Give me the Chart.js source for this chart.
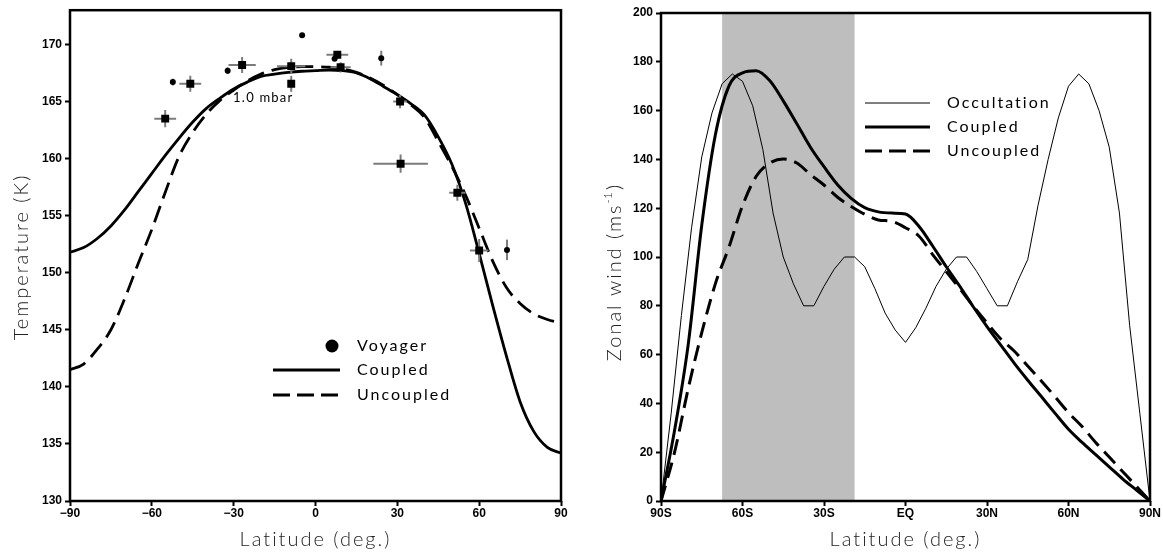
<!DOCTYPE html>
<html>
<head>
<meta charset="utf-8">
<script src="https://cdn.jsdelivr.net/npm/chart.js@4/dist/chart.umd.min.js"></script>
<style>
  html, body { margin: 0; padding: 0; background: #fff; }
  body { width: 1163px; height: 559px; position: relative; overflow: hidden; }
  #tempWrap { position: absolute; left: 0; top: 0; width: 581px; height: 559px; }
  #windWrap { position: absolute; left: 590px; top: 0; width: 573px; height: 559px; }
</style>
</head>
<body>
<div id="tempWrap"><canvas id="tempChart" width="581" height="559"></canvas></div>
<div id="windWrap"><canvas id="windChart" width="573" height="559"></canvas></div>
<script>
/* global Chart */

// ---- temperature panel ----
const tempLat = [-90, -85, -80, -75, -70, -65, -60, -55, -50, -45, -40, -35, -30, -25, -20, -15, -10, -5,
  0, 5, 10, 15, 20, 25, 30, 35, 40, 45, 50, 55, 60, 65, 70, 75, 80, 85, 90];
const coupledTemp = [151.8, 152.2, 153.0, 154.1, 155.5, 157.1, 158.7, 160.3, 161.8, 163.2, 164.4, 165.3, 166.1,
  166.7, 167.2, 167.4, 167.55, 167.65, 167.7, 167.75, 167.7, 167.5, 167.0, 166.3, 165.6, 164.8, 163.8,
  161.9, 159.5, 156.1, 151.7, 147.1, 142.7, 138.7, 136.1, 134.7, 134.2];
const uncoupledTemp = [141.5, 142.0, 143.3, 145.0, 147.7, 150.8, 153.8, 157.1, 160.2, 162.3, 163.9, 165.1, 166.0,
  166.8, 167.4, 167.8, 168.0, 168.05, 168.05, 168.0, 167.85, 167.55, 167.05, 166.4, 165.6, 164.7, 163.6,
  161.5, 159.3, 156.8, 153.9, 151.0, 148.7, 147.3, 146.4, 145.9, 145.6];

// Voyager retrievals with error bars (0 = no bar)
const voyLat = [-55.1, -52.3, -45.9, -32.2, -26.9, -8.9, -8.9, -4.9, 7.0, 8.0, 9.2, 24.1, 31.0, 31.2, 52.0, 60.0, 70.2];
const voyTemp = [163.5, 166.7, 166.55, 167.7, 168.2, 168.1, 166.55, 170.8, 168.75, 169.1, 168.0, 168.8, 165.0, 159.55, 157.0, 151.95, 152.0];
const voyShape = ["rect", "circle", "rect", "circle", "rect", "rect", "rect", "circle", "circle", "rect", "rect", "circle", "rect", "rect", "rect", "rect", "circle"];
const voyLatErr = [4, 0, 4, 0, 5, 5.2, 0, 0, 0, 4, 3.7, 0, 2.5, 10, 3, 3.4, 0];
const voyTempErr = [0.75, 0.3, 0.7, 0.3, 0.7, 0.65, 0.7, 0, 0, 0.3, 0.45, 0.65, 0.6, 0.8, 0.7, 1.0, 0.9];

const tempXTicks = [-90, -60, -30, 0, 30, 60, 90];
const tempYTicks = [130, 135, 140, 145, 150, 155, 160, 165, 170];

// ---- zonal wind panel ----
const windLat = [-90, -85, -80, -75, -70, -65, -60, -55, -50, -45, -40, -35, -30, -25, -20, -15, -10, -5,
  0, 5, 10, 15, 20, 25, 30, 35, 40, 45, 50, 55, 60, 65, 70, 75, 80, 85, 90];
const coupledWind = [0, 29, 64, 113, 150, 170, 175.5, 176.3, 172.3, 164, 154.6, 145, 137, 129.6, 124, 120.2,
  118.5, 118, 117.6, 112.5, 104.5, 96, 88, 79.5, 71.5, 64, 56.5, 49.5, 42.8, 36, 29.4, 24, 19, 14, 9, 4.5, 0];
const uncoupledWind = [0, 20, 46, 69, 89, 104, 121, 133, 138.5, 140.2, 138.5, 133.8, 129.5, 124.5, 120.7, 117.5,
  115.2, 114.6, 112, 108.5, 101, 94, 87, 79.8, 73, 66.5, 61.5, 55.3, 49.2, 42.8, 36.2, 30.5, 24, 18, 12, 6, 0];

const occultLat = [-90, -86.25, -82.5, -78.75, -75, -71.25, -67.5, -63.75, -60, -56.25, -52.5, -48.75, -45,
  -41.25, -37.5, -33.75, -30, -26.25, -22.5, -18.75, -15, -11.25, -7.5, -3.75, 0, 3.75, 7.5, 11.25, 15,
  18.75, 22.5, 26.25, 30, 33.75, 37.5, 41.25, 45, 48.75, 52.5, 56.25, 60, 63.75, 67.5, 71.25, 75, 78.75,
  82.5, 86.25, 90];
const occultWind = [0, 36, 76, 112, 141, 159, 171, 175, 172, 162, 144, 118, 100, 89, 80, 80, 88, 95, 100, 100,
  96, 87, 77, 70, 65, 71, 79, 88, 95, 100, 100, 94, 87, 80, 80, 90, 99, 121, 140, 157, 170, 175, 171, 160,
  145, 118, 72, 36, 0];

const shadeLat = [-67.5, -18.75];
const windXTicks = [-90, -60, -30, 0, 30, 60, 90];
const windXLabels = ["90S", "60S", "30S", "EQ", "30N", "60N", "90N"];
const windYTicks = [0, 20, 40, 60, 80, 100, 120, 140, 160, 180, 200];

const TICK_FONT = { family: "'Liberation Sans', Arial, sans-serif", size: 12, weight: "bold" };
const TITLE_FONT = "300 20px Lato, 'DejaVu Sans', sans-serif";
const LEGEND_FONT = "400 16px Lato, 'DejaVu Sans', sans-serif";

function pts(xs, ys) {
  return xs.map((x, i) => ({ x, y: ys[i] }));
}

function minusSign(v) {
  return v < 0 ? "\u2212" + Math.abs(v) : String(v);
}

function spacedText(ctx, text, x, y, font, spacing, align) {
  ctx.font = font;
  ctx.letterSpacing = spacing + "px";
  ctx.textAlign = align || "left";
  ctx.textBaseline = "middle";
  ctx.fillText(text, x, y);
  ctx.letterSpacing = "0px";
}

function drawFrame(ctx, area) {
  ctx.save();
  ctx.strokeStyle = "#000";
  ctx.lineWidth = 2.5;
  ctx.strokeRect(area.left, area.top, area.right - area.left, area.bottom - area.top);
  ctx.restore();
}

function legendLine(ctx, x0, x1, y, width, dash) {
  ctx.save();
  ctx.strokeStyle = "#000";
  ctx.lineWidth = width;
  ctx.setLineDash(dash || []);
  ctx.beginPath();
  ctx.moveTo(x0, y);
  ctx.lineTo(x1, y);
  ctx.stroke();
  ctx.restore();
}

function axisScale(stepTicks, fixedSize, horizontal, extra) {
  return Object.assign({
    type: "linear",
    afterFit: (s) => { if (horizontal) s.height = fixedSize; else s.width = fixedSize; },
    afterBuildTicks: (s) => { s.ticks = stepTicks.map((v) => ({ value: v })); },
    grid: { drawOnChartArea: false, drawTicks: true, tickLength: 5, tickWidth: 2, tickColor: "#000" },
    border: { display: false },
    ticks: { color: "#000", font: TICK_FONT, padding: horizontal ? 0 : 3, autoSkip: false, maxRotation: 0 },
  }, extra);
}

// error bars, legend, label and axis titles for the temperature panel
const tempDecor = {
  id: "tempDecor",
  beforeDatasetDraw(chart, args) {
    if (args.index !== 0) return;
    const { ctx, scales: { x, y } } = chart;
    ctx.save();
    ctx.strokeStyle = "#7c7c7c";
    ctx.lineWidth = 2;
    voyLat.forEach((lat, i) => {
      const px = x.getPixelForValue(lat);
      const py = y.getPixelForValue(voyTemp[i]);
      ctx.beginPath();
      if (voyLatErr[i]) {
        ctx.moveTo(x.getPixelForValue(lat - voyLatErr[i]), py);
        ctx.lineTo(x.getPixelForValue(lat + voyLatErr[i]), py);
      }
      if (voyTempErr[i]) {
        ctx.moveTo(px, y.getPixelForValue(voyTemp[i] - voyTempErr[i]));
        ctx.lineTo(px, y.getPixelForValue(voyTemp[i] + voyTempErr[i]));
      }
      ctx.stroke();
    });
    ctx.restore();
  },
  afterDraw(chart) {
    const { ctx, chartArea: a, scales: { x, y } } = chart;
    drawFrame(ctx, a);
    ctx.save();
    ctx.fillStyle = "#000";
    // pressure level note
    spacedText(ctx, "1.0 mbar", x.getPixelForValue(-30.2), y.getPixelForValue(165.3), "400 13px Lato, sans-serif", 1.2);

    // legend
    ctx.beginPath();
    ctx.arc(332, 346, 6.5, 0, Math.PI * 2);
    ctx.fill();
    legendLine(ctx, 273, 340, 370, 3);
    legendLine(ctx, 273, 340, 395, 3, [17, 7]);
    spacedText(ctx, "Voyager", 357, 346, LEGEND_FONT, 2);
    spacedText(ctx, "Coupled", 357, 370, LEGEND_FONT, 2);
    spacedText(ctx, "Uncoupled", 357, 395, LEGEND_FONT, 2);

    // axis titles
    ctx.fillStyle = "#222";
    spacedText(ctx, "Latitude (deg.)", (a.left + a.right) / 2, 540, TITLE_FONT, 2, "center");
    ctx.translate(22, 257);
    ctx.rotate(-Math.PI / 2);
    spacedText(ctx, "Temperature (K)", 0, 0, TITLE_FONT, 2, "center");
    ctx.restore();
  },
};

// shaded band, legend and axis titles for the wind panel
const windDecor = {
  id: "windDecor",
  beforeDatasetsDraw(chart) {
    const { ctx, chartArea: a, scales: { x } } = chart;
    const x0 = x.getPixelForValue(shadeLat[0]);
    const x1 = x.getPixelForValue(shadeLat[1]);
    ctx.save();
    ctx.fillStyle = "#bebebe";
    ctx.fillRect(x0, a.top, x1 - x0, a.bottom - a.top);
    ctx.restore();
  },
  afterDraw(chart) {
    const { ctx, chartArea: a } = chart;
    drawFrame(ctx, a);
    ctx.save();
    ctx.fillStyle = "#000";
    legendLine(ctx, 275, 340, 103, 1);
    legendLine(ctx, 275, 340, 127, 3);
    legendLine(ctx, 275, 340, 151, 3, [17, 7]);
    spacedText(ctx, "Occultation", 357, 103, LEGEND_FONT, 2);
    spacedText(ctx, "Coupled", 357, 127, LEGEND_FONT, 2);
    spacedText(ctx, "Uncoupled", 357, 151, LEGEND_FONT, 2);

    ctx.fillStyle = "#222";
    spacedText(ctx, "Latitude (deg.)", (a.left + a.right) / 2, 540, TITLE_FONT, 2, "center");

    // rotated title with a superscript unit
    ctx.translate(25, 272);
    ctx.rotate(-Math.PI / 2);
    const main = "Zonal wind (ms";
    const sup = "-1";
    ctx.font = TITLE_FONT;
    ctx.letterSpacing = "2px";
    const wMain = ctx.measureText(main).width;
    const wClose = ctx.measureText(")").width;
    ctx.font = "300 12px Lato, sans-serif";
    ctx.letterSpacing = "0px";
    const wSup = ctx.measureText(sup).width + 2;
    let cx = -(wMain + wSup + wClose) / 2;
    spacedText(ctx, main, cx, 0, TITLE_FONT, 2);
    cx += wMain;
    spacedText(ctx, sup, cx, -7, "300 12px Lato, sans-serif", 0);
    cx += wSup;
    spacedText(ctx, ")", cx, 0, TITLE_FONT, 2);
    ctx.restore();
  },
};

function renderTemperature() {
  const datasets = [
    {
      label: "Voyager",
      data: pts(voyLat, voyTemp),
      showLine: false,
      pointStyle: voyShape,
      pointRadius: voyShape.map((s) => (s === "rect" ? 5.6 : 3)),
      backgroundColor: "#000",
      borderColor: "#000",
      borderWidth: 0,
    },
    {
      label: "Coupled",
      data: pts(tempLat, coupledTemp),
      showLine: true,
      borderColor: "#000",
      borderWidth: 2.8,
      pointRadius: 0,
      cubicInterpolationMode: "monotone",
    },
    {
      label: "Uncoupled",
      data: pts(tempLat, uncoupledTemp),
      showLine: true,
      borderColor: "#000",
      borderWidth: 2.8,
      borderDash: [17, 8],
      pointRadius: 0,
      cubicInterpolationMode: "monotone",
    },
  ];

  // eslint-disable-next-line no-new
  new Chart(document.getElementById("tempChart"), {
    type: "scatter",
    data: { datasets },
    options: {
      responsive: false,
      animation: false,
      events: [],
      layout: { padding: { top: 9, right: 20, left: 0, bottom: 0 } },
      plugins: { legend: { display: false }, tooltip: { enabled: false } },
      scales: {
        x: axisScale(tempXTicks, 58, true, { min: -90, max: 90, ticks: { color: "#000", font: TICK_FONT, padding: 0, autoSkip: false, maxRotation: 0, callback: minusSign } }),
        y: axisScale(tempYTicks, 70, false, { min: 130, max: 173 }),
      },
    },
    plugins: [tempDecor],
  });
}

function renderWind() {
  const datasets = [
    {
      label: "Occultation",
      data: pts(occultLat, occultWind),
      showLine: true,
      borderColor: "#000",
      borderWidth: 1,
      pointRadius: 0,
      tension: 0,
    },
    {
      label: "Coupled",
      data: pts(windLat, coupledWind),
      showLine: true,
      borderColor: "#000",
      borderWidth: 3,
      pointRadius: 0,
      cubicInterpolationMode: "monotone",
    },
    {
      label: "Uncoupled",
      data: pts(windLat, uncoupledWind),
      showLine: true,
      borderColor: "#000",
      borderWidth: 3,
      borderDash: [16, 8],
      pointRadius: 0,
      cubicInterpolationMode: "monotone",
    },
  ];

  // eslint-disable-next-line no-new
  new Chart(document.getElementById("windChart"), {
    type: "scatter",
    data: { datasets },
    options: {
      responsive: false,
      animation: false,
      events: [],
      layout: { padding: { top: 13, right: 13, left: 0, bottom: 0 } },
      plugins: { legend: { display: false }, tooltip: { enabled: false } },
      scales: {
        x: axisScale(windXTicks, 58, true, {
          min: -90, max: 90,
          ticks: {
            color: "#000", font: TICK_FONT, padding: 0, autoSkip: false, maxRotation: 0,
            callback: (v) => windXLabels[windXTicks.indexOf(v)],
          },
        }),
        y: axisScale(windYTicks, 71, false, { min: 0, max: 200 }),
      },
    },
    plugins: [windDecor],
  });
}

renderTemperature();
renderWind();
</script>
</body>
</html>
